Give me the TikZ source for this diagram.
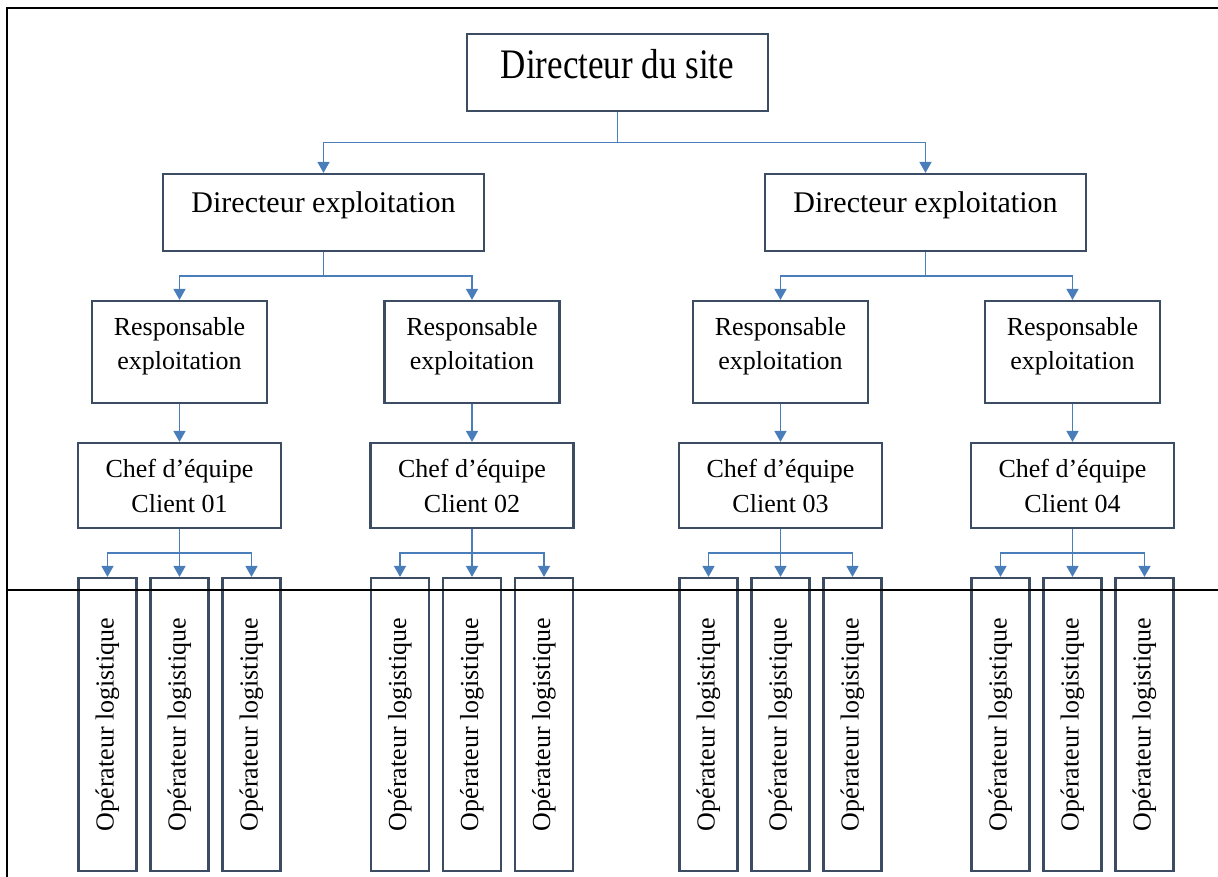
\documentclass[tikz,border=0pt]{standalone}
\usepackage{fontspec}
\setmainfont{Liberation Serif}
\usepackage{graphicx}
\usetikzlibrary{arrows.meta}
\definecolor{boxline}{RGB}{60,76,98}
\definecolor{linkblue}{RGB}{74,126,187}
\begin{document}
\begin{tikzpicture}[x=1pt,y=-1pt,
  box/.style={draw=boxline, line width=2.2pt, rectangle, inner sep=0pt, align=center, text=black},
  sitebox/.style={box, minimum width=301pt, minimum height=77pt,
    font=\fontsize{35}{40}\selectfont, text height=24pt, text depth=12pt},
  debox/.style={box, minimum width=321pt, minimum height=77pt,
    font=\fontsize{30}{36}\selectfont, text height=20pt, text depth=20pt},
  rebox/.style={box, minimum width=175pt, minimum height=102pt,
    font=\fontsize{26}{34}\selectfont},
  chbox/.style={box, minimum width=203pt, minimum height=85pt,
    font=\fontsize{26}{35}\selectfont},
  opbox/.style={box, minimum width=58pt, minimum height=293pt,
    font=\fontsize{26}{30}\selectfont},
  link/.style={draw=linkblue, line width=1.6pt,
    -{Triangle[length=11pt,width=12pt]}},
  frameline/.style={draw=black, line width=2.2pt, line join=miter}
]
\useasboundingbox (0,0) rectangle (1218,877);

% top of the hierarchy
\node[sitebox] (site) at (617.5,72.5) {\scalebox{1}[1.2]{Directeur du site}};
\node[debox] (dea) at (323.5,212.5) {Directeur exploitation};
\node[debox] (deb) at (925.5,212.5) {Directeur exploitation};

\coordinate (j0) at (617.5,142.5);
\draw[link] (site.south) -- (j0) -| (dea.north);
\draw[link] (j0) -| (deb.north);

% one branch per client: manager, team leader, three operators
\foreach \i/\x in {1/179.5,2/472,3/780.5,4/1072.5} {
  \node[rebox] (re\i) at (\x,352) {Responsable\\exploitation\rule[-18pt]{0pt}{1pt}};
  \node[chbox] (ch\i) at (\x,485.5) {Chef d’équipe\\Client 0\i};
  \draw[link] (re\i.south) -- (ch\i.north);
  \foreach \j/\dx in {1/-72,2/0,3/72} {
    \node[opbox] (op\i\j) at ({\x+(\dx)},724.5) {\rotatebox{90}{Opérateur logistique}};
  }
  \coordinate (jc\i) at (\x,553);
  \draw[link] (ch\i.south) -- (jc\i) -| (op\i1.north);
  \draw[link] (jc\i) -- (op\i2.north);
  \draw[link] (jc\i) -| (op\i3.north);
}

\coordinate (ja) at (323.5,276);
\draw[link] (dea.south) -- (ja) -| (re1.north);
\draw[link] (ja) -| (re2.north);
\coordinate (jb) at (925.5,276);
\draw[link] (deb.south) -- (jb) -| (re3.north);
\draw[link] (jb) -| (re4.north);

% page frame lines
\draw[frameline] (7,877) -- (7,8) -- (1218,8);
\draw[frameline] (7,590) -- (1218,590);
\end{tikzpicture}
\end{document}
